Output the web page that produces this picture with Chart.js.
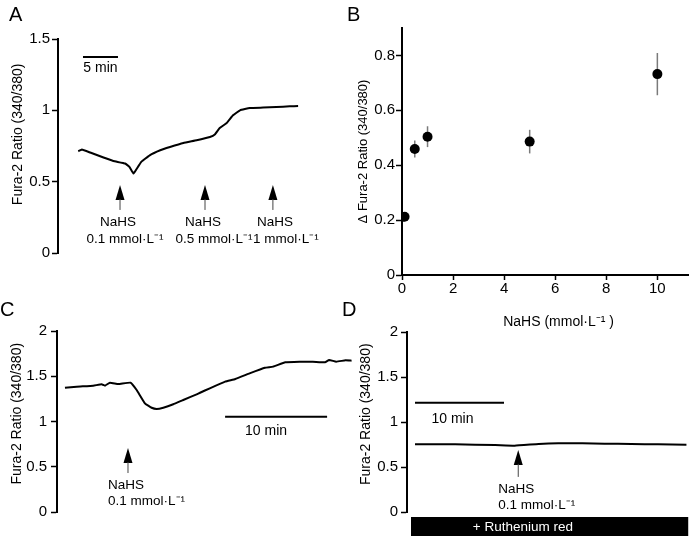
<!DOCTYPE html>
<html>
<head>
<meta charset="utf-8">
<script src="https://cdn.jsdelivr.net/npm/chart.js@4.4.1/dist/chart.umd.min.js"></script>
<style>
  body { margin: 0; background: #fff; }
  #wrap { position: relative; width: 693px; height: 536px; overflow: hidden; font-family: "Liberation Sans", Arial, sans-serif; }
  #wrap canvas { position: absolute; left: 0; top: 0; }
  .lbl { position: absolute; font-size: 20px; line-height: 20px; color: #000; }
</style>
</head>
<body>
<div id="wrap">
  <canvas id="cA" width="693" height="536"></canvas>
  <canvas id="cB" width="693" height="536"></canvas>
  <canvas id="cC" width="693" height="536"></canvas>
  <canvas id="cD" width="693" height="536"></canvas>
  <div class="lbl" style="left:9px;top:4px">A</div>
  <div class="lbl" style="left:347px;top:4px">B</div>
  <div class="lbl" style="left:0px;top:299px">C</div>
  <div class="lbl" style="left:342px;top:299px">D</div>
</div>
<script>
// ---- data (time in min, Fura-2 ratio) ----
// A: trace with 3 NaHS additions
var yTicksA = [0, 0.5, 1, 1.5];
var timeA = [0, 0.5, 1.7, 3.6, 5.0, 6.7, 7.3, 7.9, 8.3, 9.0, 10.2, 11.7, 13.1, 15.0, 16.9, 18.8, 19.5, 20.2, 21.2, 22.1, 23.1, 24.5, 26.4, 28.3, 30.2, 31.4];
var ratioA = [0.713, 0.725, 0.704, 0.669, 0.645, 0.627, 0.604, 0.557, 0.587, 0.639, 0.685, 0.720, 0.743, 0.771, 0.790, 0.813, 0.830, 0.876, 0.911, 0.965, 1.0, 1.016, 1.019, 1.023, 1.028, 1.030];
var arrowTimesA = [5.96, 18.1, 27.8];
var doseLabelsA = ['0.1 mmol·L⁻¹', '0.5 mmol·L⁻¹', '1 mmol·L⁻¹'];

// B: dose response (mean +/- error)
var xTicksB = [0, 2, 4, 6, 8, 10];
var yTicksB = [0, 0.2, 0.4, 0.6, 0.8];
var doseB = [0.1, 0.5, 1, 5, 10];
var deltaB = [0.212, 0.459, 0.504, 0.486, 0.732];
var errB = [0.016, 0.031, 0.038, 0.043, 0.077];

// C: 0.1 mmol/L NaHS
var yTicksCD = [0, 0.5, 1, 1.5, 2];
var timeC = [0, 1.15, 2.77, 3.6, 3.92, 4.41, 5.23, 6.44, 7.03, 7.84, 8.5, 8.99, 9.64, 10.62, 11.6, 12.91, 13.24, 14.2, 15.7, 16.7, 18.1, 19.6, 20.4, 21.6, 23.0, 24.3, 25.5, 25.9, 26.6, 27.5, 28.1];
var ratioC = [1.373, 1.385, 1.396, 1.411, 1.396, 1.429, 1.414, 1.429, 1.348, 1.201, 1.152, 1.138, 1.152, 1.19, 1.238, 1.30, 1.318, 1.367, 1.44, 1.47, 1.532, 1.594, 1.606, 1.654, 1.661, 1.661, 1.654, 1.68, 1.661, 1.676, 1.672];

// D: same with ruthenium red
var timeD = [0, 4.5, 9.0, 11.2, 13.9, 16.1, 18.8, 21.3, 24.3, 27.3, 30.5];
var ratioD = [0.752, 0.752, 0.744, 0.737, 0.756, 0.763, 0.763, 0.759, 0.756, 0.752, 0.748];

var FONT = '"Liberation Sans", Arial, sans-serif';
var NOTE_FONT = '13.5px ' + FONT;

function pts(xs, ys) {
  return xs.map(function(v, i) { return { x: v, y: ys[i] }; });
}

function axis(o) {
  return {
    type: 'linear', min: o.min, max: o.max,
    afterBuildTicks: function(s) { s.ticks = o.ticks.map(function(v) { return { value: v }; }); },
    afterFit: function(s) { if (o.width) s.width = o.width; if (o.height) s.height = o.height; },
    grid: { drawOnChartArea: false, drawTicks: true, tickLength: o.tickLen || 6, tickWidth: 1.5, tickColor: '#000' },
    border: { display: true, color: '#000', width: 2 },
    ticks: { color: '#000', padding: o.pad, font: { family: FONT, size: 15 }, maxRotation: 0,
             callback: function(v) { return String(v); } },
    title: { display: true, text: o.title, color: '#000', font: { family: FONT, size: o.titleSize || 14 },
             padding: { top: o.titlePad, bottom: 0 } }
  };
}

function hiddenX(min, max) {
  return { type: 'linear', display: false, min: min, max: max };
}

function baseOpts(padding, scales) {
  return {
    responsive: false, animation: false, events: [],
    layout: { padding: padding },
    plugins: { legend: { display: false }, tooltip: { enabled: false } },
    scales: scales
  };
}

function trace(data) {
  return { type: 'line', data: data, borderColor: '#000', borderWidth: 2, pointRadius: 0, tension: 0.1,
           borderJoinStyle: 'round', fill: false };
}

function drawArrow(ctx, px, py, stem) {
  ctx.fillStyle = '#000';
  ctx.beginPath();
  ctx.moveTo(px, py); ctx.lineTo(px - 4.5, py + 15); ctx.lineTo(px + 4.5, py + 15);
  ctx.closePath(); ctx.fill();
  ctx.strokeStyle = '#444'; ctx.lineWidth = 1;
  ctx.beginPath(); ctx.moveTo(px, py + 14); ctx.lineTo(px, py + 15 + stem); ctx.stroke();
}

function scaleBar(ctx, xs, ys, t0, t1, v, label, dx, dy) {
  var a = xs.getPixelForValue(t0), b = xs.getPixelForValue(t1), py = ys.getPixelForValue(v);
  ctx.strokeStyle = '#000'; ctx.lineWidth = 2;
  ctx.beginPath(); ctx.moveTo(a, py); ctx.lineTo(b, py); ctx.stroke();
  ctx.fillStyle = '#000'; ctx.textAlign = 'center'; ctx.textBaseline = 'alphabetic';
  ctx.font = '14px ' + FONT;
  ctx.fillText(label, (a + b) / 2 + dx, py + dy);
}

function notes(fn) {
  return { id: 'notes', afterDraw: function(chart) {
    var ctx = chart.ctx;
    ctx.save();
    fn(chart, ctx, chart.scales.x, chart.scales.y);
    ctx.restore();
  } };
}

// Panel A
new Chart(document.getElementById('cA'), {
  type: 'line',
  data: { datasets: [trace(pts(timeA, ratioA))] },
  options: baseOpts({ left: 0, top: 39, right: 348, bottom: 283 }, {
    x: hiddenX(-2.9, 38.1),
    y: axis({ min: 0, max: 1.5, ticks: yTicksA, width: 58, pad: 2, titlePad: 10,
              title: '      Fura-2 Ratio (340/380)' })
  }),
  plugins: [notes(function(chart, ctx, x, y) {
    scaleBar(ctx, x, y, 0.67, 5.67, 1.373, '5 min', 0, 15);
    var l1 = [-2, -2, 2], l2 = [5, 9, 13];
    arrowTimesA.forEach(function(t, i) {
      var px = x.getPixelForValue(t), py = y.getPixelForValue(0.477);
      drawArrow(ctx, px, py, 10);
      ctx.fillStyle = '#000'; ctx.font = NOTE_FONT; ctx.textAlign = 'center'; ctx.textBaseline = 'alphabetic';
      ctx.fillText('NaHS', px + l1[i], py + 41);
      ctx.fillText(doseLabelsA[i], px + l2[i], py + 58);
    });
  })]
});

// Panel B
new Chart(document.getElementById('cB'), {
  type: 'scatter',
  data: { datasets: [{ data: pts(doseB, deltaB), pointRadius: 5, pointBackgroundColor: '#000',
                       pointBorderWidth: 0, showLine: false }] },
  options: baseOpts({ left: 350, top: 28, right: 1, bottom: 205 }, {
    x: axis({ min: 0, max: 11.2, ticks: xTicksB, height: 56, pad: 0, tickLen: 5, titlePad: 0,
              title: '       NaHS (mmol·L⁻¹ )' }),
    y: axis({ min: 0, max: 0.9, ticks: yTicksB, width: 52, pad: 1, titlePad: 6, titleSize: 13,
              title: 'Δ Fura-2 Ratio (340/380)' })
  }),
  plugins: [{ id: 'errbars', beforeDatasetsDraw: function(chart) {
    var ctx = chart.ctx, x = chart.scales.x, y = chart.scales.y;
    ctx.save();
    ctx.strokeStyle = '#7a7a7a'; ctx.lineWidth = 1.5;
    doseB.forEach(function(d, i) {
      var px = x.getPixelForValue(d);
      ctx.beginPath();
      ctx.moveTo(px, y.getPixelForValue(deltaB[i] - errB[i]));
      ctx.lineTo(px, y.getPixelForValue(deltaB[i] + errB[i]));
      ctx.stroke();
    });
    ctx.restore();
  } }]
});

// Panel C
new Chart(document.getElementById('cC'), {
  type: 'line',
  data: { datasets: [trace(pts(timeC, ratioC))] },
  options: baseOpts({ left: 0, top: 331, right: 340, bottom: 24 }, {
    x: hiddenX(-0.78, 28.24),
    y: axis({ min: 0, max: 2, ticks: yTicksCD, width: 57, pad: 4, titlePad: 9,
              title: '    Fura-2 Ratio (340/380)' })
  }),
  plugins: [notes(function(chart, ctx, x, y) {
    scaleBar(ctx, x, y, 15.7, 25.7, 1.053, '10 min', -10, 18);
    var px = x.getPixelForValue(6.18), py = y.getPixelForValue(0.707);
    drawArrow(ctx, px, py, 10);
    ctx.fillStyle = '#000'; ctx.font = NOTE_FONT; ctx.textAlign = 'left'; ctx.textBaseline = 'alphabetic';
    ctx.fillText('NaHS', px - 20, py + 41);
    ctx.fillText('0.1 mmol·L⁻¹', px - 20, py + 57);
  })]
});

// Panel D
new Chart(document.getElementById('cD'), {
  type: 'line',
  data: { datasets: [trace(pts(timeD, ratioD))] },
  options: baseOpts({ left: 350, top: 332, right: 3, bottom: 24 }, {
    x: hiddenX(-0.9, 30.9),
    y: axis({ min: 0, max: 2, ticks: yTicksCD, width: 57, pad: 3, titlePad: 8,
              title: '    Fura-2 Ratio (340/380)' })
  }),
  plugins: [notes(function(chart, ctx, x, y) {
    scaleBar(ctx, x, y, 0, 10, 1.214, '10 min', -7, 20);
    var px = x.getPixelForValue(11.6), py = y.getPixelForValue(0.69);
    drawArrow(ctx, px, py, 12);
    ctx.fillStyle = '#000'; ctx.font = NOTE_FONT; ctx.textAlign = 'left'; ctx.textBaseline = 'alphabetic';
    ctx.fillText('NaHS', px - 20, py + 43);
    ctx.fillText('0.1 mmol·L⁻¹', px - 20, py + 59);
    // ruthenium red bar under the axis
    var b0 = x.getPixelForValue(-0.45), b1 = x.getPixelForValue(30.7), top = chart.chartArea.bottom + 5;
    ctx.fillStyle = '#000';
    ctx.fillRect(b0, top, b1 - b0, chart.height - top);
    ctx.fillStyle = '#fff'; ctx.textAlign = 'left';
    ctx.fillText('+ Ruthenium red', x.getPixelForValue(6.5), top + 14);
  })]
});
</script>
</body>
</html>
